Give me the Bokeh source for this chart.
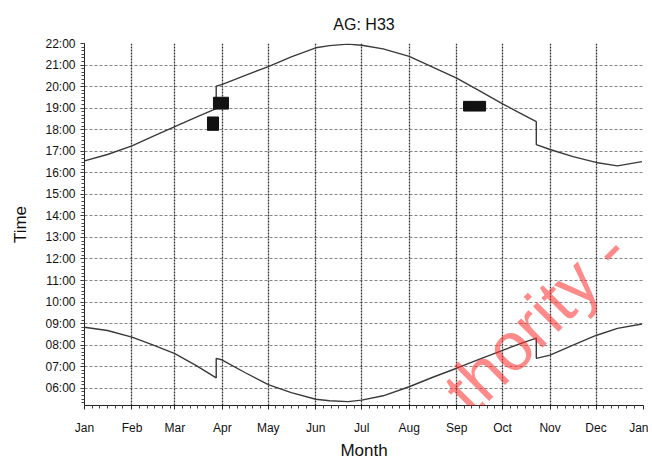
from bokeh.plotting import figure
from bokeh.models import FixedTicker, Range1d, Label
from bokeh.embed import file_html
from bokeh.resources import INLINE

# ---- data ----
month_labels = ["Jan", "Feb", "Mar", "Apr", "May", "Jun", "Jul", "Aug", "Sep", "Oct", "Nov", "Dec", "Jan"]
month_starts = [0, 31, 59, 90, 120, 151, 181, 212, 243, 273, 304, 334, 365]

sunset_day = [0, 15, 31, 45, 59, 73, 86, 86, 90, 105, 120, 135, 151, 160, 172, 181, 195, 212, 227, 243, 258, 273, 285, 295, 295, 304, 319, 334, 348, 364]
sunset_hr = [16.55, 16.85, 17.25, 17.70, 18.14, 18.58, 18.98, 20.02, 20.10, 20.52, 20.93, 21.38, 21.80, 21.90, 21.97, 21.92, 21.75, 21.40, 20.92, 20.39, 19.80, 19.20, 18.75, 18.37, 17.31, 17.08, 16.75, 16.48, 16.32, 16.52]

sunrise_day = [0, 15, 31, 45, 59, 73, 86, 86, 90, 105, 120, 135, 151, 160, 172, 181, 195, 212, 227, 243, 258, 273, 285, 295, 295, 304, 319, 334, 348, 364]
sunrise_hr = [8.83, 8.68, 8.37, 8.00, 7.61, 7.05, 6.48, 7.39, 7.31, 6.72, 6.17, 5.80, 5.49, 5.42, 5.38, 5.45, 5.65, 6.07, 6.50, 6.93, 7.35, 7.76, 8.08, 8.33, 7.39, 7.54, 8.00, 8.45, 8.78, 8.98]

hour_ticks = list(range(6, 23))
hour_labels = ["%02d:00" % h for h in hour_ticks]

marker_day = [89.1, 83.9, 254.7]
marker_hr = [19.23, 18.28, 19.09]
marker_w = [9.8, 7.2, 14.4]
marker_h = [0.55, 0.62, 0.45]

FONT = "Liberation Sans"

p = figure(width=648, height=462, output_backend="svg", toolbar_location=None,
           x_range=Range1d(0, 365), y_range=Range1d(5.2, 22.0),
           min_border_left=84, min_border_right=5, min_border_top=43, min_border_bottom=49,
           background_fill_color="white", border_fill_color="white")
p.outline_line_color = None

p.title.text = "AG: H33"
p.title.align = "center"
p.title.standoff = 22
p.title.offset = -5
p.title.text_font = FONT
p.title.text_font_size = "16px"
p.title.text_font_style = "normal"
p.title.text_color = "#111111"

# x axis
minor_x = []
for i in range(12):
    d = month_starts[i] + 5
    while d < month_starts[i + 1] - 2:
        minor_x.append(d)
        d += 5
p.xaxis.ticker = FixedTicker(ticks=month_starts, minor_ticks=minor_x)
p.xaxis.major_label_overrides = {d: m for d, m in zip(month_starts, month_labels)}
p.xaxis.axis_label = "Month"

# y axis
minor_y = [h + k / 6 for h in range(5, 22) for k in range(1, 6)] + [h for h in range(6, 23)]
minor_y = [v for v in minor_y if 5.2 <= v <= 22.0]
p.yaxis.ticker = FixedTicker(ticks=hour_ticks, minor_ticks=minor_y)
p.yaxis.major_label_overrides = {h: l for h, l in zip(hour_ticks, hour_labels)}
p.yaxis.axis_label = "Time"

for ax in (p.xaxis[0], p.yaxis[0]):
    ax.axis_label_text_font = FONT
    ax.axis_label_text_font_size = "17px"
    ax.axis_label_text_font_style = "normal"
    ax.axis_label_text_color = "#111111"
    ax.major_label_text_font = FONT
    ax.major_label_text_font_size = "12px"
    ax.major_label_text_color = "#111111"
    ax.axis_line_color = "#222222"
    ax.major_tick_line_color = "#222222"
    ax.minor_tick_line_color = "#444444"
    ax.major_tick_in = 0
    ax.major_tick_out = 4
    ax.minor_tick_in = 0
    ax.minor_tick_out = 3

p.xaxis.axis_label_standoff = 3
p.xaxis.major_label_standoff = 11
p.yaxis.axis_label_standoff = 12
p.yaxis.major_label_standoff = 5

p.xgrid.grid_line_color = "#111111"
p.xgrid.grid_line_dash = "2 1"
p.xgrid.grid_line_alpha = 0.85
p.xgrid.grid_line_width = 1.3
p.ygrid.grid_line_color = "#333333"
p.ygrid.grid_line_dash = "3 2"
p.ygrid.grid_line_alpha = 0.6
p.ygrid.grid_line_width = 1

p.line(sunset_day, sunset_hr, line_color="#3a3a3a", line_width=1.4)
p.line(sunrise_day, sunrise_hr, line_color="#3a3a3a", line_width=1.4)

p.rect(marker_day, marker_hr, width=marker_w, height=marker_h, fill_color="#111111", line_color="#111111")

wm = Label(x=242.2, y=5.42, text="thority -", angle=45, angle_units="deg",
           text_baseline="alphabetic", text_align="left",
           text_font=FONT, text_font_size="68px", text_color="#ff2a2a", text_alpha=0.55)
p.add_layout(wm)

open("out.html", "w").write(file_html(p, INLINE))
